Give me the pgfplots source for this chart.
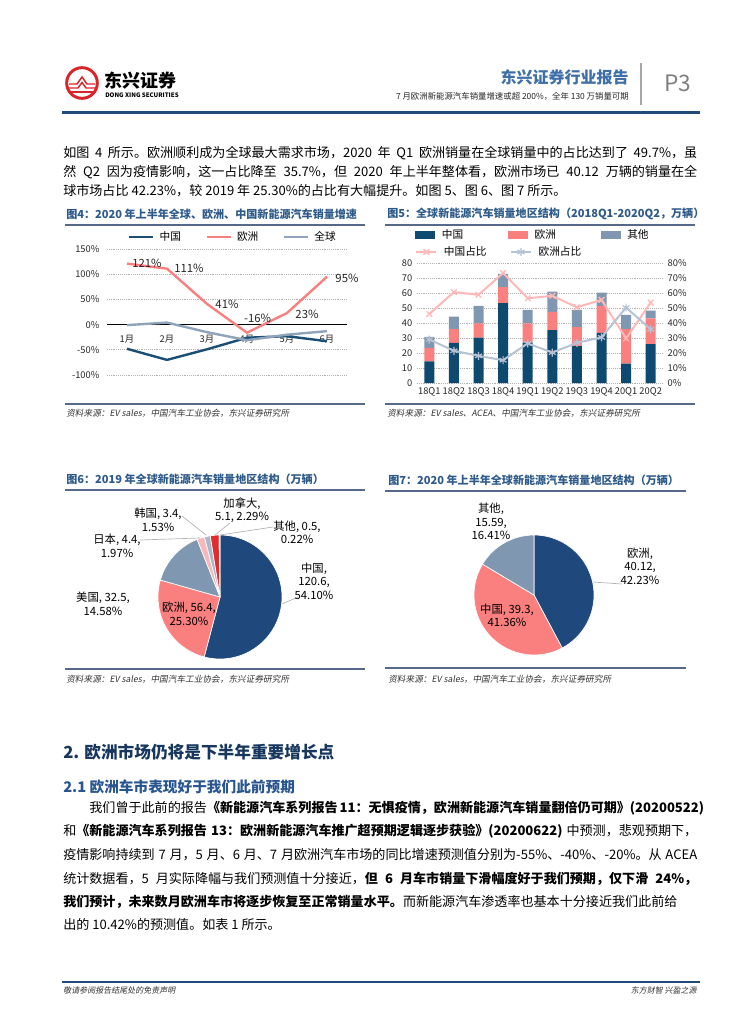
\documentclass[border=0pt]{standalone}
\usepackage{fontspec}
\setmainfont{Noto Sans CJK SC}
\newfontfamily\srcfont[FakeSlant=0.18]{Noto Sans CJK SC}
\usepackage{pgfplots}
\pgfplotsset{compat=1.18}
\usetikzlibrary{plotmarks}

\definecolor{hdrblue}{HTML}{3F6FA8}
\definecolor{lineblue}{HTML}{1F4A7A}
\definecolor{ttlblue}{HTML}{2E5A8A}
\definecolor{rulegray}{HTML}{56698A}
\definecolor{secblue}{HTML}{17375E}
\definecolor{sec2blue}{HTML}{2A5690}
\definecolor{logored}{HTML}{D9252A}
\definecolor{cnnavy}{HTML}{0E4A70}
\definecolor{f4cn}{HTML}{1B4E74}
\definecolor{salmon}{HTML}{FA7F7F}
\definecolor{bgray}{HTML}{7F97B1}
\definecolor{f4gl}{HTML}{8FA3BB}
\definecolor{pinkl}{HTML}{FFB8B8}
\definecolor{grayl}{HTML}{B6C3D5}
\definecolor{pienavy}{HTML}{1F497D}
\definecolor{piepink}{HTML}{F6B8B8}
\definecolor{piegl}{HTML}{A8B7CB}
\definecolor{piered}{HTML}{E32B2B}
\definecolor{pieoth}{HTML}{5A6B80}

\XeTeXlinebreaklocale "zh"
\XeTeXlinebreakskip=0pt plus 1pt minus 0.4pt

\newcommand\bodyfont{\fontsize{9.8}{12}\selectfont}
\newcommand\ttlfont{\fontsize{8.3}{9}\selectfont\bfseries}
\newcommand\tickfont{\fontsize{7}{8}\selectfont}
\newcommand\lgdfont{\fontsize{8}{9}\selectfont}
\newcommand\lblfont{\fontsize{8.5}{10.2}\selectfont}
\newcommand\srcsize{\fontsize{6.5}{7}\selectfont}
\newcommand\jline[1]{\hbox to 475.5pt{#1}}

\pgfplotsset{
  every axis/.append style={
    /pgf/number format/assume math mode=true,
    tick label style={font=\tickfont, text=black!85},
    tick style={draw=none},
  },
}

\begin{document}
\begin{tikzpicture}[x=0.75pt,y=-0.75pt,t/.style={inner sep=0pt}]
\path[use as bounding box, fill=white] (0,0) rectangle (755,1024);

% ---------- header ----------
\draw[logored, line width=2.2pt] (82,83) circle[radius=11.5pt];
\draw[logored, line width=1.1pt] (69,84) -- (77,84) -- (82,77) -- (87,84) -- (95,84);
\draw[logored, line width=1.1pt] (68,88) -- (78,88) -- (82,82.5) -- (86,88) -- (96,88);
\draw[logored, line width=1.1pt] (69,92) -- (95,92);
\node[t, anchor=west, font=\fontsize{13.5}{14}\selectfont\bfseries] at (104,81) {东兴证券};
\node[t, anchor=west, font=\fontsize{4.6}{5}\selectfont\bfseries] at (105,95) {DONG XING SECURITIES};
\node[t, anchor=east, font=\fontsize{12}{12}\selectfont\bfseries, text=hdrblue] at (629,77) {东兴证券行业报告};
\node[t, anchor=east, font=\fontsize{6.3}{7}\selectfont, text=black!85] at (629,96) {7 月欧洲新能源汽车销量增速或超 200\%，全年 130 万销量可期};
\draw[gray!70, line width=1pt] (641,63) -- (641,105);
\node[t, anchor=west, font=\fontsize{17}{17}\selectfont, text=gray] at (664,83) {P3};
\fill[lineblue] (62,111) rectangle (700,114);

% ---------- upper paragraph ----------
\node[t, anchor=west, font=\bodyfont] at (63,153) {\jline{如图 4 所示。欧洲顺利成为全球最大需求市场，2020 年 Q1 欧洲销量在全球销量中的占比达到了 49.7\%，虽}};
\node[t, anchor=west, font=\bodyfont] at (63,172) {\jline{然 Q2 因为疫情影响，这一占比降至 35.7\%，但 2020 年上半年整体看，欧洲市场已 40.12 万辆的销量在全}};
\node[t, anchor=west, font=\bodyfont] at (63,191) {球市场占比 42.23\%，较 2019 年 25.30\%的占比有大幅提升。如图 5、图 6、图 7 所示。};

% ---------- figure 4 ----------
\node[t, anchor=west, font=\ttlfont, text=ttlblue] at (66,214) {图4：2020 年上半年全球、欧洲、中国新能源汽车销量增速};
\draw[rulegray, line width=1.5pt] (65,225) -- (365,225);
\draw[rulegray, line width=1.5pt] (65,404) -- (365,404);
\node[t, anchor=west, font=\srcsize\srcfont, text=black!80] at (66,413) {资料来源：EV sales，中国汽车工业协会，东兴证券研究所};

\begin{axis}[
  at={(80.25pt,-281.25pt)}, anchor=south west,
  scale only axis, width=180pt, height=94.5pt,
  xmin=0.5, xmax=6.5, ymin=-100, ymax=150,
  axis x line=middle, axis y line=left,
  x axis line style={-, black, line width=0.8pt},
  y axis line style={draw=none},
  hide obscured x ticks=false, hide obscured y ticks=false,
  xtick={1,2,3,4,5,6}, xticklabels={1月,2月,3月,4月,5月,6月},
  xticklabel style={yshift=-2pt},
  ytick={-100,-50,0,50,100,150},
  yticklabel={\pgfmathprintnumber{\tick}\%},
  ymajorgrids, grid style={densely dotted, gray!60, line width=0.6pt},
  legend columns=3,
  legend style={at={(0.0875,1.095)}, anchor=west, draw=none, fill=none,
    inner sep=0pt, nodes={inner sep=0pt}, font=\lgdfont,
    /tikz/every odd column/.append style={column sep=3.75pt}},
  legend image code/.code={\draw[#1] (0pt,0pt) -- (18pt,0pt);},
]
\addplot[f4cn, line width=1.8pt] coordinates {(1,-48)(2,-70)(3,-49)(4,-26)(5,-23)(6,-33)};
\addlegendentry{\makebox[34.5pt][l]{中国}}
\addplot[salmon, line width=1.8pt,
  visualization depends on={\thisrow{dx}\as\dx},
  visualization depends on={\thisrow{dy}\as\dy},
  nodes near coords={\pgfmathprintnumber{\pgfplotspointmeta}\%},
  every node near coord/.append style={anchor=center, font=\lblfont, text=black!85,
    xshift=\dx pt, yshift=\dy pt}]
  table[x=x, y=y] {
x y dx dy
1 121 15 0
2 111 16.5 0
3 41 15 0
4 -16 8 11
5 23 15 -1
6 95 15 -1
};
\addlegendentry{\makebox[34.5pt][l]{欧洲}}
\addplot[f4gl, line width=1.8pt] coordinates {(1,-1)(2,4)(3,-15)(4,-31)(5,-20)(6,-13)};
\addlegendentry{\makebox[34.5pt][l]{全球}}
\end{axis}

% ---------- figure 5 ----------
\node[t, anchor=west, font=\ttlfont, text=ttlblue] at (387,214) {图5：全球新能源汽车销量地区结构（2018Q1-2020Q2，万辆）};
\draw[rulegray, line width=1.5pt] (385,225) -- (695,225);
\draw[rulegray, line width=1.5pt] (385,404) -- (695,404);
\node[t, anchor=west, font=\srcsize\srcfont, text=black!80] at (387,413) {资料来源：EV sales、ACEA、中国汽车工业协会，东兴证券研究所};

\begin{axis}[
  at={(312.75pt,-287.25pt)}, anchor=south west,
  scale only axis, width=184.5pt, height=90pt,
  ybar stacked, bar width=7.5pt,
  xmin=-0.5, xmax=9.5, ymin=0, ymax=80,
  xtick={0,...,9},
  xticklabels={18Q1,18Q2,18Q3,18Q4,19Q1,19Q2,19Q3,19Q4,20Q1,20Q2},
  ytick={0,10,...,80},
  axis line style={draw=none},
  ymajorgrids, grid style={densely dotted, gray!60, line width=0.6pt},
  legend columns=3,
  legend style={at={(-0.008,1.233)}, anchor=west, draw=none, fill=none,
    inner sep=0pt, nodes={inner sep=0pt}, font=\lgdfont,
    /tikz/every odd column/.append style={column sep=5pt}},
  legend image code/.code={\fill[#1] (0pt,-3pt) rectangle (15pt,3pt);},
]
\addplot[fill=cnnavy, draw=none] coordinates {(0,14.5)(1,26.8)(2,30.2)(3,53.2)(4,27.0)(5,35.3)(6,24.6)(7,33.5)(8,13.0)(9,25.9)};
\addlegendentry{\makebox[49.5pt][l]{中国}}
\addplot[fill=salmon, draw=none] coordinates {(0,9.0)(1,9.2)(2,9.6)(3,10.7)(4,12.8)(5,12.1)(6,12.7)(7,17.9)(8,23.0)(9,17.2)};
\addlegendentry{\makebox[49.5pt][l]{欧洲}}
\addplot[fill=bgray, draw=none] coordinates {(0,7.3)(1,8.2)(2,11.6)(3,8.9)(4,8.9)(5,13.6)(6,11.4)(7,8.9)(8,9.4)(9,5.2)};
\addlegendentry{\makebox[49.5pt][l]{其他}}
\end{axis}

\begin{axis}[
  at={(312.75pt,-287.25pt)}, anchor=south west,
  scale only axis, width=184.5pt, height=90pt,
  xmin=-0.5, xmax=9.5, ymin=0, ymax=80,
  axis y line*=right, axis x line=none,
  y axis line style={draw=none},
  ytick={0,10,...,80},
  yticklabel={\pgfmathprintnumber{\tick}\%},
  legend columns=2,
  legend style={at={(-0.008,1.092)}, anchor=west, draw=none, fill=none,
    inner sep=0pt, nodes={inner sep=0pt}, font=\lgdfont,
    /tikz/every odd column/.append style={column sep=5pt}},
  legend image code/.code={\draw[mark repeat=2, mark phase=2, #1] plot coordinates {(0pt,0pt) (7.5pt,0pt) (15pt,0pt)};},
]
\addplot[pinkl, line width=1.5pt, mark=x, mark size=3pt, mark options={line width=1pt}]
  coordinates {(0,46)(1,60.6)(2,58.8)(3,73.3)(4,56.5)(5,58.1)(6,50.5)(7,55.4)(8,29.7)(9,53.6)};
\addlegendentry{\makebox[49.5pt][l]{中国占比}}
\addplot[grayl, line width=1.5pt, mark=asterisk, mark size=3pt, mark options={line width=0.9pt}]
  coordinates {(0,29)(1,21.5)(2,18.1)(3,15.2)(4,26.4)(5,20.3)(6,26.8)(7,30.4)(8,50.3)(9,35.8)};
\addlegendentry{\makebox[49.5pt][l]{欧洲占比}}
\end{axis}

% ---------- figure 6 ----------
\node[t, anchor=west, font=\ttlfont, text=ttlblue] at (66,479) {图6：2019 年全球新能源汽车销量地区结构（万辆）};
\draw[rulegray, line width=1.5pt] (65,490) -- (365,490);
\draw[rulegray, line width=1.5pt] (65,669) -- (365,669);
\node[t, anchor=west, font=\srcsize\srcfont, text=black!80] at (66,679) {资料来源：EV sales，中国汽车工业协会，东兴证券研究所};

\begin{axis}[
  at={(165pt,-447.75pt)}, anchor=center, scale only axis, width=93pt, height=93pt,
  hide axis, xmin=-1, xmax=1, ymin=-1, ymax=1,
]
\pgfplotsextra{
  \gdef\cum{90}
  \foreach \v/\c in {120.6/pienavy,56.4/salmon,32.5/bgray,4.4/piepink,3.4/piegl,5.1/piered,0.5/pieoth}{
    \pgfmathsetmacro\nxt{\cum-\v/222.9*360}
    \filldraw[fill=\c, draw=white, line width=0.5pt] (axis cs:0,0) -- ++(\cum:46.5pt)
      arc[start angle=\cum, end angle=\nxt, radius=46.5pt] -- cycle;
    \xdef\cum{\nxt}
  }
}
\end{axis}
\draw[gray!60, line width=0.5pt] (182,516) -- (206,535);
\draw[gray!60, line width=0.5pt] (140,540) -- (200,538);
\draw[gray!60, line width=0.5pt] (230,523) -- (215,535);
\draw[gray!60, line width=0.5pt] (273,527) -- (220,535);
\draw[gray!60, line width=0.5pt] (298,597) -- (282,604);
\node[t, align=center, font=\lblfont] at (242,510) {加拿大,\\5.1, 2.29\%};
\node[t, align=center, font=\lblfont] at (158,520) {韩国, 3.4,\\1.53\%};
\node[t, align=center, font=\lblfont] at (117,546) {日本, 4.4,\\1.97\%};
\node[t, align=center, font=\lblfont] at (297,532.5) {其他, 0.5,\\0.22\%};
\node[t, align=center, font=\lblfont] at (314,581) {中国,\\120.6,\\54.10\%};
\node[t, align=center, font=\lblfont] at (103,603.5) {美国, 32.5,\\14.58\%};
\node[t, align=center, font=\lblfont] at (189,613.5) {欧洲, 56.4,\\25.30\%};

% ---------- figure 7 ----------
\node[t, anchor=west, font=\ttlfont, text=ttlblue] at (388,480) {图7：2020 年上半年全球新能源汽车销量地区结构（万辆）};
\draw[rulegray, line width=1.5pt] (385,491) -- (686,491);
\draw[rulegray, line width=1.5pt] (385,668) -- (686,668);
\node[t, anchor=west, font=\srcsize\srcfont, text=black!80] at (388,679) {资料来源：EV sales，中国汽车工业协会，东兴证券研究所};

\begin{axis}[
  at={(400.5pt,-446.25pt)}, anchor=center, scale only axis, width=90pt, height=90pt,
  hide axis, xmin=-1, xmax=1, ymin=-1, ymax=1,
]
\pgfplotsextra{
  \gdef\cum{90}
  \foreach \v/\c in {40.12/pienavy,39.3/salmon,15.59/bgray}{
    \pgfmathsetmacro\nxt{\cum-\v/95.01*360}
    \filldraw[fill=\c, draw=white, line width=0.5pt] (axis cs:0,0) -- ++(\cum:45pt)
      arc[start angle=\cum, end angle=\nxt, radius=45pt] -- cycle;
    \xdef\cum{\nxt}
  }
}
\end{axis}
\draw[gray!60, line width=0.5pt] (593,582) -- (622,584);
\node[t, align=center, font=\lblfont] at (491,521.5) {其他,\\15.59,\\16.41\%};
\node[t, align=center, font=\lblfont] at (640,566) {欧洲,\\40.12,\\42.23\%};
\node[t, align=center, font=\lblfont] at (507,615.5) {中国, 39.3,\\41.36\%};

% ---------- section 2 ----------
\node[t, anchor=west, font=\fontsize{12.5}{13}\selectfont\bfseries, text=secblue] at (63,752) {2. 欧洲市场仍将是下半年重要增长点};
\node[t, anchor=west, font=\fontsize{11}{12}\selectfont\bfseries, text=sec2blue] at (63,787) {2.1 欧洲车市表现好于我们此前预期};

\node[t, anchor=west, font=\bodyfont] at (63,808) {\jline{\hskip19.6pt 我们曾于此前的报告\textbf{《新能源汽车系列报告 11：无惧疫情，欧洲新能源汽车销量翻倍仍可期》(20200522)}}};
\node[t, anchor=west, font=\bodyfont] at (63,831) {\jline{和\textbf{《新能源汽车系列报告 13：欧洲新能源汽车推广超预期逻辑逐步获验》(20200622)} 中预测，悲观预期下，}};
\node[t, anchor=west, font=\bodyfont] at (63,855) {\jline{疫情影响持续到 7 月，5 月、6 月、7 月欧洲汽车市场的同比增速预测值分别为-55\%、-40\%、-20\%。从 ACEA}};
\node[t, anchor=west, font=\bodyfont] at (63,879) {\jline{统计数据看，5 月实际降幅与我们预测值十分接近，\textbf{但 6 月车市销量下滑幅度好于我们预期，仅下滑 24\%，}}};
\node[t, anchor=west, font=\bodyfont] at (63,902) {\jline{\textbf{我们预计，未来数月欧洲车市将逐步恢复至正常销量水平。}而新能源汽车渗透率也基本十分接近我们此前给}};
\node[t, anchor=west, font=\bodyfont] at (63,925) {出的 10.42\%的预测值。如表 1 所示。};

% ---------- footer ----------
\draw[lineblue, line width=1.2pt] (62,982) -- (700,982);
\node[t, anchor=west, font=\fontsize{6}{6}\selectfont\srcfont, text=black!80] at (63,990) {敬请参阅报告结尾处的免责声明};
\node[t, anchor=east, font=\fontsize{6}{6}\selectfont\srcfont, text=black!80] at (697,990) {东方财智 兴盈之源};
\end{tikzpicture}
\end{document}
